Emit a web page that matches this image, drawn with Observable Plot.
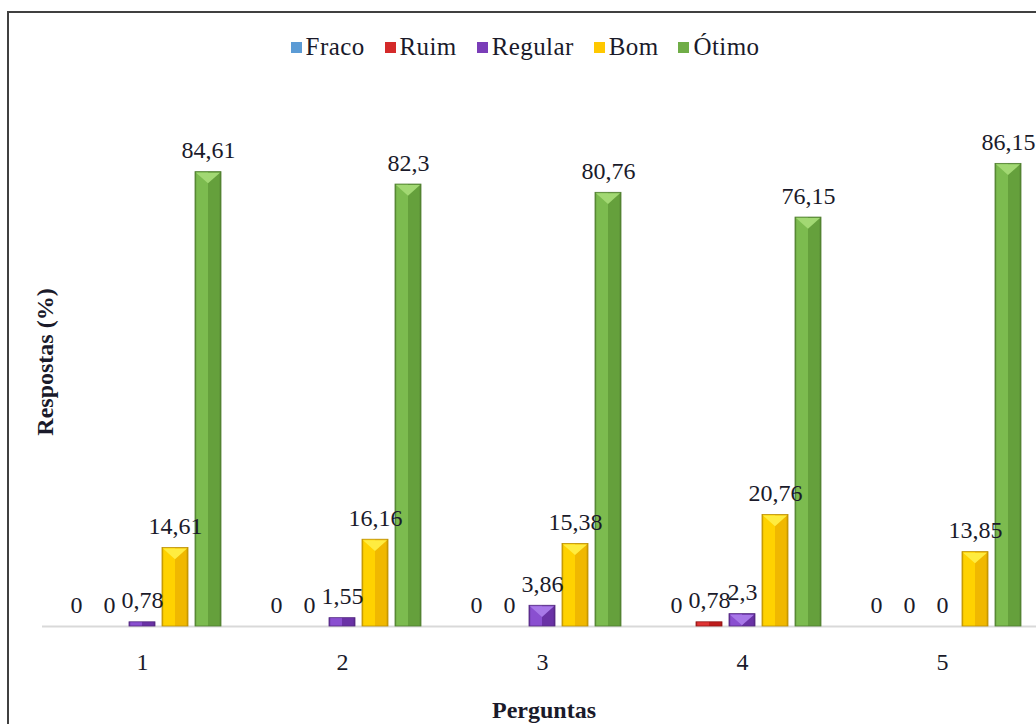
<!DOCTYPE html>
<html>
<head>
<meta charset="utf-8">
<script src="https://cdn.jsdelivr.net/npm/d3@7"></script>
<script src="https://cdn.jsdelivr.net/npm/@observablehq/plot@0.6"></script>
<style>
  html, body { margin: 0; padding: 0; background: #fff; overflow: hidden; width: 1036px; height: 724px; }
  body { position: relative; font-family: "Liberation Serif", "Times New Roman", serif; color: #1a1a2a; }
  #frame { position: absolute; left: 7px; top: 11px; width: 1100px; height: 800px; border: 2px solid #404040; box-sizing: border-box; }
  #legend { position: absolute; left: 0; top: 32px; width: 1050px; display: flex; justify-content: center; font-family: "Liberation Serif", serif; font-size: 25px; line-height: 30px; letter-spacing: 0.4px; }
  #legend .item { display: flex; align-items: center; margin: 0 10px; }
  #legend .sw { width: 11px; height: 11px; margin-right: 4px; }
  #chart { position: absolute; left: 0; top: 0; width: 1060px; }
  #chart svg { max-width: none !important; }
  #chart svg text { font-family: "Liberation Serif", serif; }
  #xtitle { position: absolute; left: 0; width: 1088px; top: 696px; text-align: center; font-weight: bold; font-size: 24px; line-height: 28px; font-family: "Liberation Serif", serif; }
  #ytitle { position: absolute; left: 45px; top: 362px; transform: translate(-50%, -50%) rotate(-90deg); font-weight: bold; font-size: 24px; white-space: nowrap; font-family: "Liberation Serif", serif; }
</style>
</head>
<body>
<div id="frame"></div>
<div id="chart"></div>
<div id="legend"></div>
<div id="xtitle">Perguntas</div>
<div id="ytitle">Respostas (%)</div>
<script>
const perguntas = ["1", "2", "3", "4", "5"];
const series = ["Fraco", "Ruim", "Regular", "Bom", "Ótimo"];
const colors = ["#5b9bd5", "#d42a2a", "#7a3db8", "#ffc800", "#70ad47"];
const fraco   = [0, 0, 0, 0, 0];
const ruim    = [0, 0, 0, 0.78, 0];
const regular = [0.78, 1.55, 3.86, 2.3, 0];
const bom     = [14.61, 16.16, 15.38, 20.76, 13.85];
const otimo   = [84.61, 82.3, 80.76, 76.15, 86.15];

// shading (styling only): light half, dark half, top bevel
const lightShade = ["#6aa8e0", "#e03434", "#8a4fd0", "#ffd200", "#7cbb4f"];
const darkShade  = ["#4a88c2", "#be1c1c", "#6a32a6", "#f0b800", "#65a03c"];
const bevelShade = ["#9cc8f0", "#f06a6a", "#a878e8", "#ffec40", "#a2d873"];

const valuesBySeries = [fraco, ruim, regular, bom, otimo];
const data = [];
perguntas.forEach((p, i) => {
  series.forEach((s, j) => {
    data.push({pergunta: p, serie: s, valor: valuesBySeries[j][i]});
  });
});
const fmt = v => String(v).replace(".", ",");

const chart = Plot.plot({
  width: 1060,
  height: 724,
  marginLeft: 42,
  marginRight: 18,
  marginTop: 89,
  marginBottom: 98,
  style: {fontFamily: "'Liberation Serif', serif", fontSize: "24px", color: "#1a1a2a", background: "transparent", maxWidth: "none"},
  fx: {domain: perguntas, padding: 0, label: null, tickSize: 0, tickPadding: 26},
  x: {domain: series, paddingInner: 0.2, paddingOuter: 0.58, axis: null},
  y: {domain: [0, 100], axis: null},
  color: {domain: series, range: colors},
  marks: [
    Plot.ruleY([0], {stroke: "#d9d9d9", strokeWidth: 2}),
    Plot.barY(data, {fx: "pergunta", x: "serie", y: "valor", fill: "serie"}),
    Plot.text(data, {fx: "pergunta", x: "serie", y: "valor", text: d => fmt(d.valor), lineAnchor: "bottom", dy: -14, fontSize: 24, fill: "#1a1a2a"})
  ]
});
document.getElementById("chart").appendChild(chart);

// bevel-like styling for the bars (derived from the rendered rects)
const svg = d3.select(chart);
const defs = svg.insert("defs", ":first-child");
colors.forEach((c, i) => {
  const g = defs.append("linearGradient").attr("id", "g" + i).attr("x1", "0").attr("x2", "1").attr("y1", "0").attr("y2", "0");
  const edge = d3.color(darkShade[i]).darker(0.6).formatHex();
  const stops = [[0, edge], [0.07, lightShade[i]], [0.5, lightShade[i]], [0.5, darkShade[i]], [0.92, darkShade[i]], [1, edge]];
  stops.forEach(([o, col]) => g.append("stop").attr("offset", o).attr("stop-color", col));
});
svg.selectAll("rect").each(function() {
  const f = this.getAttribute("fill");
  if (!f) return;
  const idx = colors.findIndex(c => d3.color(c).formatHex() === d3.color(f).formatHex());
  if (idx < 0) return;
  this.setAttribute("fill", `url(#g${idx})`);
  this.setAttribute("stroke", d3.color(darkShade[idx]).darker(0.7).formatHex());
  this.setAttribute("stroke-width", "0.8");
  const bx = +this.getAttribute("x"), by = +this.getAttribute("y");
  const bw = +this.getAttribute("width"), bh = +this.getAttribute("height");
  if (bh > 10) {
    const th = Math.min(bw * 0.45, bh);
    d3.select(this.parentNode).append("polygon")
      .attr("points", `${bx + 1},${by + 1} ${bx + bw - 1},${by + 1} ${bx + bw / 2},${by + th}`)
      .attr("fill", bevelShade[idx]);
  }
});

// legend
const legend = document.getElementById("legend");
series.forEach((s, i) => {
  const item = document.createElement("div");
  item.className = "item";
  const sw = document.createElement("span");
  sw.className = "sw";
  sw.style.background = colors[i];
  const t = document.createElement("span");
  t.textContent = s;
  item.appendChild(sw);
  item.appendChild(t);
  legend.appendChild(item);
});
</script>
</body>
</html>
